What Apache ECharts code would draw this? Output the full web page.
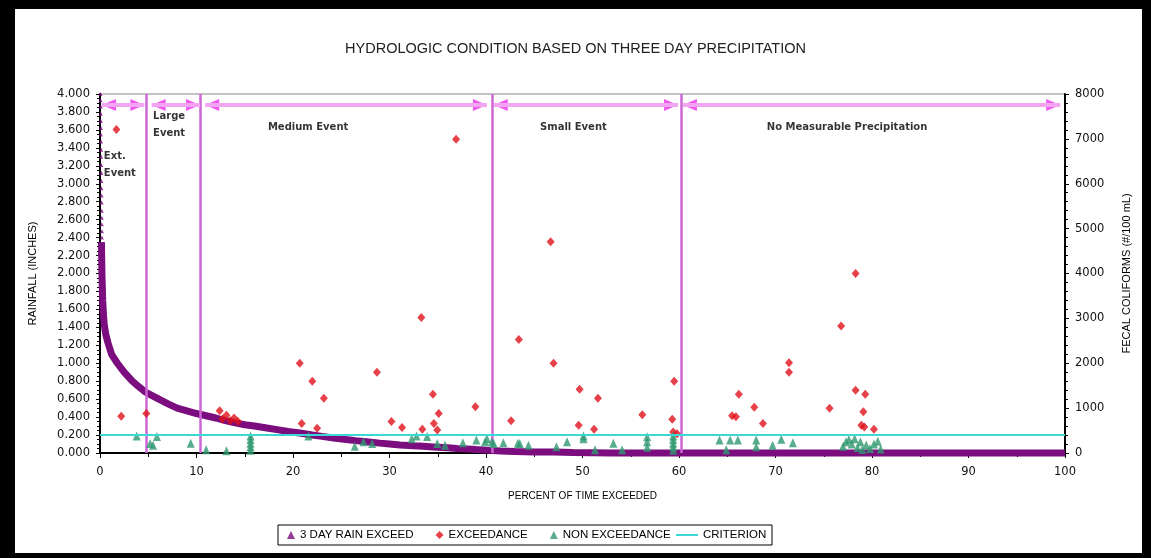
<!DOCTYPE html>
<html><head><meta charset="utf-8">
<script src="https://cdn.jsdelivr.net/npm/echarts@6/dist/echarts.min.js"></script>
<style>
html,body{margin:0;padding:0;background:#fff;}
#c{position:absolute;left:0;top:0;width:1151px;height:558px;}
.b{position:absolute;background:#000;}
</style></head><body>
<div id="c"></div>
<div class="b" style="left:0;top:0;width:1151px;height:9px"></div>
<div class="b" style="left:0;top:0;width:15px;height:558px"></div>
<div class="b" style="left:1142px;top:0;width:9px;height:558px"></div>
<div class="b" style="left:0;top:553px;width:1151px;height:5px"></div>
<script>
// ---- data ----
const titleText = 'HYDROLOGIC CONDITION BASED ON THREE DAY PRECIPITATION';
const xName = 'PERCENT OF TIME EXCEEDED';
const yLeftName = 'RAINFALL (INCHES)';
const yRightName = 'FECAL COLIFORMS (#/100 mL)';
const seriesNames = ['3 DAY RAIN EXCEED', 'EXCEEDANCE', 'NON EXCEEDANCE', 'CRITERION'];

// sparse 3-day rain markers at the very top of the exceedance curve
const rainTop = [[0.05,4.0],[0.06,3.93],[0.07,3.86],[0.08,3.78],[0.09,3.7],[0.1,3.62],[0.1,3.55],[0.11,3.47],[0.12,3.38],[0.12,3.3],[0.13,3.21],[0.14,3.12],[0.15,3.03],[0.15,2.95],[0.16,2.87],[0.17,2.79],[0.18,2.7],[0.18,2.62],[0.19,2.55],[0.2,2.47],[0.2,2.4]];
// 3-day rain exceedance curve (percent exceeded, inches)
const rainCurve = [[0.15,2.35],[0.18,2.15],[0.2,2.0],[0.24,1.85],[0.28,1.7],[0.35,1.55],[0.45,1.42],[0.6,1.32],[0.85,1.22],[1.2,1.1],[1.8,1.0],[2.5,0.9],[3.35,0.8],[4.0,0.74],[4.7,0.68],[5.4,0.64],[6.1,0.6],[7.0,0.55],[8.0,0.5],[9.0,0.47],[10.0,0.44],[11.0,0.415],[12.0,0.39],[13.0,0.36],[14.0,0.335],[15.0,0.315],[16.0,0.3],[17.3,0.278],[18.5,0.258],[19.5,0.24],[20.7,0.222],[22.0,0.2],[23.0,0.185],[24.2,0.168],[25.5,0.15],[26.5,0.138],[27.6,0.126],[29.0,0.11],[30.0,0.1],[31.1,0.089],[32.5,0.08],[33.5,0.074],[34.5,0.068],[36.0,0.058],[37.0,0.05],[38.0,0.045],[39.0,0.038],[40.0,0.032],[41.5,0.022],[43.0,0.016],[45.0,0.012],[47.0,0.01],[49.0,0.006],[51.0,0.003],[53.0,0],[100,0]];
// fecal coliform samples above the criterion (#/100 mL)
const exceedance = [[1.7,7210],[2.2,820],[4.8,880],[12.4,940],[12.7,760],[13.1,840],[13.5,720],[13.9,780],[14.3,700],[20.7,2000],[20.9,660],[22.0,1600],[22.5,550],[23.2,1220],[28.7,1800],[30.2,700],[31.3,570],[33.3,3020],[33.4,530],[34.5,1310],[34.6,660],[34.95,510],[35.1,880],[36.9,6990],[38.9,1030],[42.6,720],[43.4,2530],[46.7,4710],[47.0,2000],[49.6,620],[49.7,1420],[51.2,530],[51.6,1220],[56.2,850],[59.3,750],[59.4,470],[59.5,1600],[59.8,430],[65.5,830],[65.9,810],[66.2,1310],[67.8,1020],[68.7,660],[71.4,2010],[71.4,1800],[75.6,1000],[76.8,2830],[78.3,4000],[78.3,1400],[78.9,620],[79.1,920],[79.2,580],[79.3,1310],[80.2,530]];
// fecal coliform samples below the criterion
const nonExceedance = [[3.8,380],[5.2,210],[5.5,170],[5.9,370],[9.4,220],[11.0,70],[13.1,50],[15.6,380],[15.6,300],[15.6,220],[15.6,140],[15.6,60],[21.6,380],[26.4,150],[27.3,250],[28.2,210],[32.3,320],[32.8,380],[33.9,370],[34.95,210],[35.75,175],[37.6,230],[39.0,290],[39.9,250],[40.1,320],[40.6,250],[40.8,210],[41.8,230],[43.3,215],[43.5,210],[44.4,175],[47.3,140],[48.4,250],[50.1,380],[50.1,320],[51.3,70],[53.2,215],[54.1,70],[56.7,360],[56.7,250],[56.7,130],[59.4,380],[59.4,300],[59.4,220],[59.4,140],[59.4,60],[64.2,290],[64.9,70],[65.3,290],[66.1,290],[68.0,290],[68.0,140],[69.7,175],[70.6,305],[71.8,230],[77.0,150],[77.3,250],[77.6,300],[77.9,200],[78.2,320],[78.5,120],[78.8,250],[79.0,80],[79.4,180],[79.8,100],[80.2,200],[80.6,260],[80.9,90]];
const criterion = 400;
// hydrologic condition class boundaries (percent of time exceeded)
const eventBounds = [4.8, 10.4, 40.6, 60.2];
const arrowSpans = [[0.2,4.6],[5.35,10.36],[10.9,40.1],[40.8,59.9],[60.4,99.5]];
const eventNames = ['Ext.\nEvent', 'Large\nEvent', 'Medium Event', 'Small Event', 'No Measurable Precipitation'];
const xTickLabels = ['0','10','20','30','40','50','60','70','80','90','100'];

// ---- chart ----
const arrowY = 3.877;
const labelAnchors = [[0.4,3.21],[5.5,3.66],[17.4,3.63],[45.6,3.63],[69.1,3.63]];
const FONT = 'Liberation Sans, Arial, sans-serif';
const TICKFONT = 'DejaVu Sans, sans-serif';
const purple = '#7B0D7E';

const chart = echarts.init(document.getElementById('c'), null, {renderer: 'canvas'});
chart.setOption({
  animation: false,
  backgroundColor: '#fff',
  title: {text: titleText, left: 'center', top: 36,
    textStyle: {fontSize: 14.5, fontWeight: 'normal', fontFamily: FONT, color: '#222'}},
  grid: {left: 100, right: 86, top: 94, bottom: 105, show: true, borderColor: '#888', borderWidth: 1, backgroundColor: 'transparent'},
  legend: [
    {data: seriesNames.slice(0,3), left: 287, top: 529, itemWidth: 8, itemHeight: 8, itemGap: 22, padding: 0,
     textStyle: {fontSize: 11.5, fontFamily: FONT, color: '#000'}},
    {data: [{name: seriesNames[3], icon: 'path://M0,0 L22,0 L22,2 L0,2 Z'}], left: 676, top: 529, itemWidth: 22, itemHeight: 8, padding: 0,
     textStyle: {fontSize: 11.5, fontFamily: FONT, color: '#000'}}
  ],
  graphic: [{type: 'rect', shape: {x: 278, y: 525, width: 494, height: 20}, style: {fill: 'none', stroke: '#000', lineWidth: 1}, silent: true, z: 100}],
  xAxis: {type: 'value', min: 0, max: 100, interval: 10,
    name: xName, nameLocation: 'middle', nameGap: 38,
    nameTextStyle: {fontSize: 10, fontFamily: FONT, color: '#000'},
    axisLine: {lineStyle: {color: '#000', width: 2}},
    axisTick: {show: true, length: 5, lineStyle: {color: '#000'}},
    minorTick: {show: true, splitNumber: 2, length: 4, lineStyle: {color: '#000'}},
    splitLine: {show: false},
    axisLabel: {fontSize: 11.5, fontFamily: TICKFONT, color: '#111', margin: 13,
      formatter: (v) => xTickLabels[Math.round(v/10)]}},
  yAxis: [
    {type: 'value', min: 0, max: 4, interval: 0.2, position: 'left',
     name: yLeftName, nameLocation: 'middle', nameGap: 62, nameRotate: 90,
     nameTextStyle: {fontSize: 11, fontFamily: FONT, color: '#000'},
     axisLine: {show: true, lineStyle: {color: '#000', width: 2}},
     axisTick: {show: true, length: 4, lineStyle: {color: '#000'}},
     minorTick: {show: true, splitNumber: 4, length: 3, lineStyle: {color: '#000'}},
     splitLine: {show: false},
     axisLabel: {fontSize: 11.5, fontFamily: TICKFONT, color: '#111', margin: 10, formatter: (v) => v.toFixed(3)}},
    {type: 'value', min: 0, max: 8000, interval: 1000, position: 'right',
     name: yRightName, nameLocation: 'middle', nameGap: 56, nameRotate: 90,
     nameTextStyle: {fontSize: 11, fontFamily: FONT, color: '#000'},
     axisLine: {show: true, lineStyle: {color: '#000', width: 2}},
     axisTick: {show: true, length: 4, lineStyle: {color: '#000'}},
     minorTick: {show: true, splitNumber: 5, length: 3, lineStyle: {color: '#000'}},
     splitLine: {show: false},
     axisLabel: {fontSize: 11.5, fontFamily: TICKFONT, color: '#111', margin: 10, formatter: (v) => String(v)}}
  ],
  series: [
    {name: seriesNames[0], type: 'scatter', data: rainTop, symbol: 'triangle', symbolSize: 4,
     itemStyle: {color: purple}, z: 3, clip: false},
    {name: seriesNames[0], type: 'line', data: rainCurve, showSymbol: false, symbol: 'none', clip: false,
     lineStyle: {color: purple, width: 7}, itemStyle: {color: purple}, z: 3},
    {name: 'bounds', type: 'line', data: [], silent: true,
     markLine: {silent: true, symbol: 'none', label: {show: false},
       lineStyle: {color: '#CC66D6', width: 2.5, type: 'solid'},
       data: eventBounds.map(v => ({xAxis: v}))}},
    {name: 'spans', type: 'line', data: [], silent: true,
     markLine: {silent: true, symbol: 'none', label: {show: false},
       lineStyle: {color: '#F2A6F2', width: 4, type: 'solid'},
       data: arrowSpans.map(s => [{coord: [s[0], arrowY]}, {coord: [s[1], arrowY]}])}},
    {name: 'headsL', type: 'scatter', silent: true, data: arrowSpans.map(s => [s[0], arrowY]),
     symbol: 'triangle', symbolSize: [12, 14], symbolRotate: 90, symbolOffset: [7, 0],
     itemStyle: {color: '#EE2EEE'}, z: 4},
    {name: 'headsR', type: 'scatter', silent: true, data: arrowSpans.map(s => [s[1], arrowY]),
     symbol: 'triangle', symbolSize: [12, 14], symbolRotate: -90, symbolOffset: [-7, 0],
     itemStyle: {color: '#EE2EEE'}, z: 4},
    {name: 'labels', type: 'scatter', silent: true, symbolSize: 0,
     data: eventNames.map((n, i) => ({name: n, value: labelAnchors[i]})),
     label: {show: true, position: 'right', distance: 0, formatter: (p) => p.name,
       fontSize: 10, fontWeight: 'bold', fontFamily: 'DejaVu Sans, sans-serif', color: '#000', lineHeight: 17}},
    {name: seriesNames[1], type: 'scatter', yAxisIndex: 1, data: exceedance, symbol: 'diamond', symbolSize: [8, 9],
     itemStyle: {color: '#E0101A'}, z: 5},
    {name: seriesNames[2], type: 'scatter', yAxisIndex: 1, data: nonExceedance, symbol: 'triangle', symbolSize: [8, 9],
     itemStyle: {color: '#2F9970'}, z: 5},
    {name: seriesNames[3], type: 'line', yAxisIndex: 1, data: [[0, criterion], [100, criterion]],
     showSymbol: false, symbol: 'none', lineStyle: {color: '#3CD8D8', width: 2}, itemStyle: {color: '#3CD8D8'}, z: 6}
  ]
});
</script>
</body></html>
